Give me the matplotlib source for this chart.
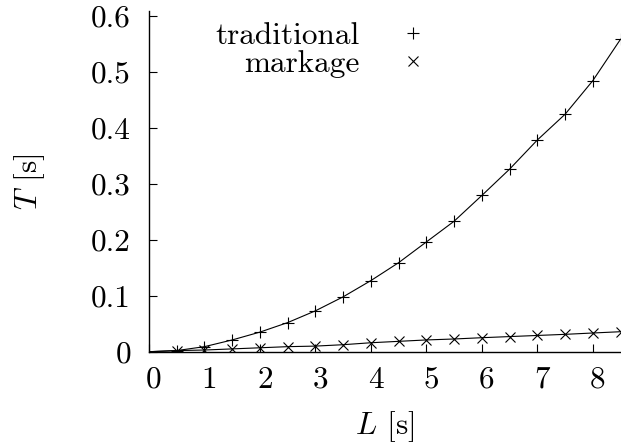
import matplotlib
matplotlib.use("Agg")
import matplotlib.pyplot as plt
import matplotlib.transforms as mtransforms
import numpy as np

plt.rcParams['font.family'] = ['cmr10', 'DejaVu Serif']
plt.rcParams['mathtext.fontset'] = 'cm'
plt.rcParams['axes.formatter.use_mathtext'] = True
plt.rcParams['axes.unicode_minus'] = False

# Data
L_values = [0.5, 1.0, 1.5, 2.0, 2.5, 3.0, 3.5, 4.0, 4.5, 5.0, 5.5, 6.0, 6.5, 7.0, 7.5, 8.0, 8.5]
traditional = [0.002, 0.009, 0.021, 0.035, 0.052, 0.073, 0.098, 0.127, 0.159, 0.196,
               0.233, 0.279, 0.326, 0.378, 0.424, 0.484, 0.558]
markage = [0.002, 0.003, 0.005, 0.007, 0.009, 0.010, 0.0125, 0.016, 0.0185, 0.021,
           0.0227, 0.025, 0.027, 0.029, 0.031, 0.0334, 0.0357]
x_ticks = [0, 1, 2, 3, 4, 5, 6, 7, 8]
y_ticks = [0, 0.1, 0.2, 0.3, 0.4, 0.5, 0.6]
y_tick_labels = ['0', '0.1', '0.2', '0.3', '0.4', '0.5', '0.6']
series_names = ['traditional', 'markage']

W, H = 621, 444
fig = plt.figure(figsize=(W / 100, H / 100), dpi=100)
ax = fig.add_axes([149 / W, 1 - 351.7 / H, 471.5 / W, (351.7 - 11) / H])

fs = 22.5
ax.plot([0] + L_values, [0] + traditional, color='black', lw=0.8)
ax.plot([0] + L_values, [0] + markage, color='black', lw=0.8)
ax.plot(L_values, traditional, linestyle='none', marker='+', ms=8, mew=0.8,
        color='black', label=series_names[0])
ax.plot(L_values, markage, linestyle='none', marker='x', ms=6.5, mew=0.8,
        color='black', label=series_names[1])

ax.set_xlim(0, 8.5)
ax.set_ylim(0, 0.6085)
ax.set_xticks(x_ticks)
ax.set_xticklabels([str(v) for v in x_ticks])
ax.set_yticks(y_ticks)
ax.set_yticklabels(y_tick_labels)

for s in ['top', 'right']:
    ax.spines[s].set_visible(False)
for s in ['left', 'bottom']:
    ax.spines[s].set_linewidth(1.0)

ax.tick_params(axis='both', direction='in', length=6, width=0.8, labelsize=fs)
ax.tick_params(axis='y', pad=13)
ax.tick_params(axis='x', pad=10)

offset = mtransforms.ScaledTranslation(5 / 100, 0, fig.dpi_scale_trans)
for lab in ax.get_xticklabels():
    lab.set_transform(lab.get_transform() + offset)

ax.set_xlabel(r'$L$ [s]', fontsize=fs, labelpad=11)
ax.set_ylabel(r'$T$ [s]', fontsize=fs, labelpad=32)

leg = ax.legend(loc='upper right', bbox_to_anchor=(444 / W, 1 - 22 / H),
                bbox_transform=fig.transFigure, frameon=False, markerfirst=False,
                fontsize=fs, handletextpad=0.7, handlelength=2.0, borderpad=0,
                borderaxespad=0, labelspacing=0.0)

fig.savefig('out.png', dpi=100)
